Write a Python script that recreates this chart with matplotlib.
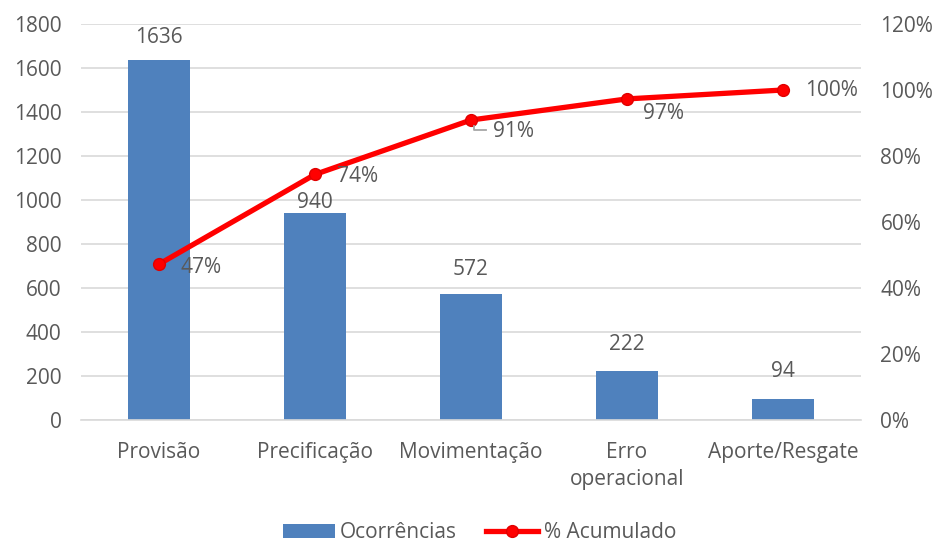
import matplotlib
matplotlib.use("Agg")
import matplotlib.pyplot as plt
from matplotlib.ticker import FuncFormatter
from matplotlib.lines import Line2D
import matplotlib.transforms as mtransforms

categories = ["Provisão", "Precificação", "Movimentação", "Erro\noperacional", "Aporte/Resgate"]
ocorrencias = [1636, 940, 572, 222, 94]
acumulado = [47.2, 74.4, 90.9, 97.3, 100.0]

plt.rcParams['font.family'] = ['Open Sans', 'DejaVu Sans']
TXT = '#595959'
FS = 15

fig = plt.figure(figsize=(9.4, 5.43), dpi=100)
ax = fig.add_axes([0.086, 0.2265, 0.83, 0.7293])
ax2 = ax.twinx()

x = list(range(len(categories)))
bars = ax.bar(x, ocorrencias, width=0.4, color='#4F81BD', label='Ocorrências', zorder=2)
ax.set_xlim(-0.5, len(categories) - 0.5)
ax.set_ylim(0, 1800)
ax.set_yticks(range(0, 1801, 200))
ax.grid(axis='y', color='#D9D9D9', linewidth=1.2, zorder=0)
ax.set_axisbelow(True)
ax.set_xticks(x)
ax.set_xticklabels(categories, fontsize=FS, color=TXT, linespacing=1.35)
ax.tick_params(axis='both', length=0, labelsize=FS, labelcolor=TXT)
ax.tick_params(axis='x', pad=16)
ax.tick_params(axis='y', pad=14)
for s in ax.spines.values():
    s.set_visible(False)
ax.spines['bottom'].set_visible(True)
ax.spines['bottom'].set_color('#D9D9D9')
ax.spines['bottom'].set_linewidth(1.2)

bar_gaps = [12, 0, 14, 16, 17]
for xi, v, g in zip(x, ocorrencias, bar_gaps):
    ax.annotate(f"{v}", (xi, v), xytext=(0, g), textcoords='offset pixels',
                ha='center', va='bottom', fontsize=FS, color=TXT)

line, = ax2.plot(x, acumulado, color='#FF0000', linewidth=3.8, marker='o',
                 markersize=8.5, markerfacecolor='#FF0000', markeredgecolor='#E00000',
                 label='% Acumulado', zorder=3)
ax2.set_ylim(0, 120)
ax2.set_yticks(range(0, 121, 20))
ax2.yaxis.set_major_formatter(FuncFormatter(lambda v, p: f"{int(v)}%"))
ax2.tick_params(axis='y', length=0, labelsize=FS, labelcolor=TXT, pad=14)
for s in ax2.spines.values():
    s.set_visible(False)

offsets = [(22, -3), (22, -2), (22, -11), (16, -15), (22, 0)]
for xi, v, (dx, dy) in zip(x, acumulado, offsets):
    ax2.annotate(f"{round(v)}%", (xi, v), xytext=(dx, dy), textcoords='offset pixels',
                 ha='left', va='center', fontsize=FS, color=TXT)

# leader line for the 91% label
px = 1 / fig.dpi
anchor = ax2.transData.transform((x[2], acumulado[2])) / fig.dpi
leader = Line2D([3 * px, 3 * px, 15 * px], [-6 * px, -10 * px, -10 * px],
                color='#A6A6A6', lw=1.3,
                transform=fig.dpi_scale_trans + mtransforms.ScaledTranslation(
                    anchor[0], anchor[1], fig.dpi_scale_trans),
                zorder=2)
fig.add_artist(leader)

fig.legend(handles=[bars, line], labels=['Ocorrências', '% Acumulado'],
           loc='lower center', bbox_to_anchor=(0.51, -0.035), ncol=2, frameon=False,
           fontsize=FS, labelcolor=TXT, handlelength=2.5, columnspacing=1.4,
           handletextpad=0.25)

fig.savefig('out.png', dpi=100)
